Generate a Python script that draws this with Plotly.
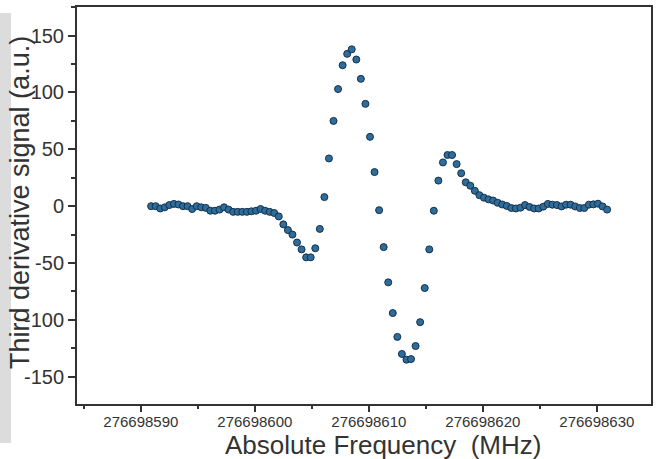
import plotly.graph_objects as go

freq_mhz = [
    276698590.9, 276698591.3, 276698591.7, 276698592.1, 276698592.5, 276698592.9, 276698593.3,
    276698593.7, 276698594.1, 276698594.5, 276698594.9, 276698595.3, 276698595.7, 276698596.1,
    276698596.5, 276698596.9, 276698597.3, 276698597.7, 276698598.1, 276698598.5, 276698598.9,
    276698599.3, 276698599.7, 276698600.1, 276698600.5, 276698600.9, 276698601.3, 276698601.7,
    276698602.1, 276698602.5, 276698602.9, 276698603.3, 276698603.7, 276698604.1, 276698604.5,
    276698604.9, 276698605.3, 276698605.7, 276698606.1, 276698606.5, 276698606.9, 276698607.3,
    276698607.7, 276698608.1, 276698608.5, 276698608.9, 276698609.3, 276698609.7, 276698610.1,
    276698610.5, 276698610.9, 276698611.3, 276698611.7, 276698612.1, 276698612.5, 276698612.9,
    276698613.3, 276698613.7, 276698614.1, 276698614.5, 276698614.9, 276698615.3, 276698615.7,
    276698616.1, 276698616.5, 276698616.9, 276698617.3, 276698617.7, 276698618.1, 276698618.5,
    276698618.9, 276698619.3, 276698619.7, 276698620.1, 276698620.5, 276698620.9, 276698621.3,
    276698621.7, 276698622.1, 276698622.5, 276698622.9, 276698623.3, 276698623.7, 276698624.1,
    276698624.5, 276698624.9, 276698625.3, 276698625.7, 276698626.1, 276698626.5, 276698626.9,
    276698627.3, 276698627.7, 276698628.1, 276698628.5, 276698628.9, 276698629.3, 276698629.7,
    276698630.1, 276698630.5, 276698630.9,
]

signal = [
    0, 0, -2, -1, 1, 2, 1.5, 0, 0, -2.5,
    0, -1, -1.5, -4, -4, -3, -1, -3, -5, -5,
    -5, -5, -4.5, -4, -2.5, -4, -5, -6, -9, -16,
    -21, -25, -32, -38, -45, -45, -37, -20, 8, 42,
    75, 103, 124, 134, 138, 129, 112, 90, 61, 30,
    -3.5, -36, -67, -94, -115, -130, -135, -134.5, -123, -102,
    -72, -38, -4, 22.5, 38.5, 45, 45, 37, 29, 21,
    18, 13.5, 9.7, 7.5, 6, 5, 3, 1.5, 0.2, -1.6,
    -2, -1.3, 1, -0.7, -2, -2, -0.4, 2, 1.3, 1,
    -0.2, 1.3, 1.3, -0.2, -1.6, -1.6, 1.3, 1.6, 2.2, -0.2,
    -3,
]

x_tick_vals = [276698590, 276698600, 276698610, 276698620, 276698630]
x_tick_text = ["276698590", "276698600", "276698610", "276698620", "276698630"]
y_tick_vals = [-150, -100, -50, 0, 50, 100, 150]
y_tick_text = ["-150", "-100", "-50", "0", "50", "100", "150"]

x_range = [276698584.4, 276698634.75]
y_range = [-174, 175.2]

fig = go.Figure()
fig.add_trace(go.Scatter(
    x=freq_mhz, y=signal, mode="markers",
    marker=dict(size=7, color="#2e6c9a", line=dict(color="#15304a", width=1)),
    showlegend=False,
))

W, H = 656, 459
ml, mr, mt, mb = 77, 5, 7, 55
pw, ph = W - ml - mr, H - mt - mb

def px_x(p):
    return (p - ml) / pw

def px_y(p):
    return (H - mb - p) / ph

axis_common = dict(
    showline=True, mirror=True, linecolor="#333333", linewidth=2,
    showgrid=False, zeroline=False, ticks="outside", tickcolor="#333333",
    tickwidth=1.5,
)

fig.update_layout(
    width=W, height=H,
    margin=dict(l=ml, r=mr, t=mt, b=mb, autoexpand=False),
    paper_bgcolor="white", plot_bgcolor="white",
    font=dict(family="Liberation Sans, Arial, sans-serif", color="#333333"),
    xaxis=dict(
        **axis_common, range=x_range, tickmode="array",
        tickvals=x_tick_vals, ticktext=x_tick_text,
        ticklen=6, tickfont=dict(size=15, color="#333333"), ticklabelstandoff=-3,
        minor=dict(dtick=5, tick0=276698590, ticks="outside", ticklen=3, tickcolor="#333333"),
    ),
    yaxis=dict(
        **axis_common, range=y_range, tickmode="array",
        tickvals=y_tick_vals, ticktext=y_tick_text, ticklen=7,
        tickfont=dict(size=20, color="#333333"),
        minor=dict(dtick=25, tick0=0, ticks="outside", ticklen=4, tickcolor="#333333"),
    ),
    shapes=[dict(
        type="rect", xref="paper", yref="paper", layer="below",
        x0=px_x(0), x1=px_x(11), y0=px_y(443), y1=px_y(13),
        fillcolor="#dcdcdc", line=dict(width=0),
    )],
    annotations=[
        dict(text="Third derivative signal (a.u.)", xref="paper", yref="paper",
             x=px_x(20), y=px_y(203), xanchor="center", yanchor="middle",
             textangle=-90, showarrow=False, font=dict(size=27, color="#333333")),
        dict(text="Absolute Frequency \u00a0(MHz)", xref="paper", yref="paper",
             x=px_x(383), y=px_y(445), xanchor="center", yanchor="middle",
             showarrow=False, font=dict(size=26, color="#333333")),
    ],
)

fig.write_html("out.html", config={"displayModeBar": False},
               post_script="document.body.style.margin='0';")
